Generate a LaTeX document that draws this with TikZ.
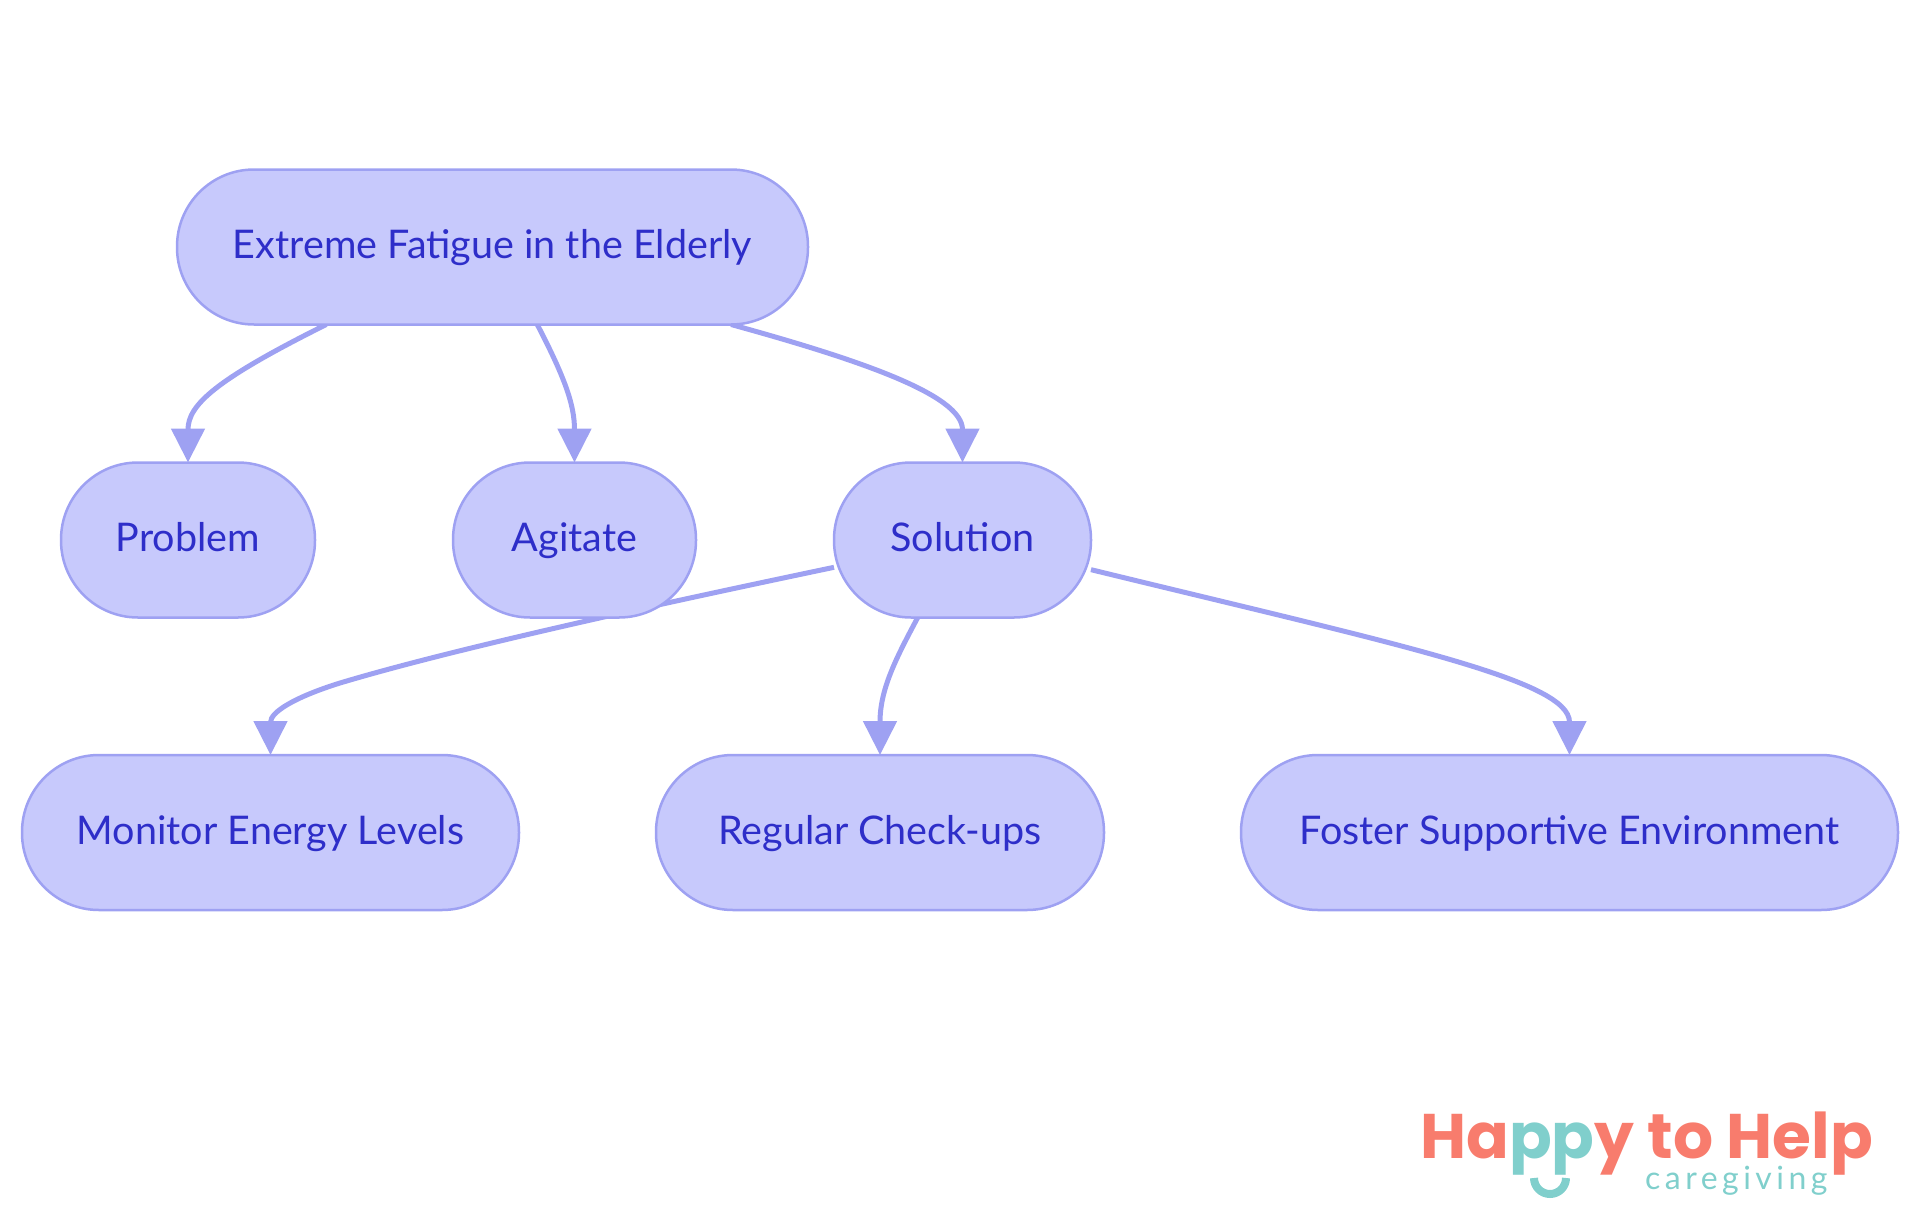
\documentclass[tikz,border=0pt]{standalone}
\usepackage{fontspec}
\usetikzlibrary{arrows.meta,backgrounds}
\setmainfont{Lato}
\newfontfamily\logofont{Poppins}
\definecolor{boxfill}{HTML}{C7C9FC}
\definecolor{boxline}{HTML}{9EA1F2}
\definecolor{boxtext}{HTML}{2E2EC9}
\definecolor{logored}{HTML}{F87C6D}
\definecolor{logoteal}{HTML}{80CFCC}
\tikzset{
  pill/.style={draw=boxline,fill=boxfill,text=boxtext,line width=2.5pt,rounded corners=77pt,
    inner sep=0pt,outer sep=0pt,minimum height=155pt,text height=31pt,text depth=8pt,
    font=\fontsize{39.5}{44}\selectfont},
  link/.style={draw=boxline,line width=5pt,-{Triangle[width=33pt,length=34pt]}}
}
\begin{document}
\begin{tikzpicture}[x=1pt,y=-1pt]
   \useasboundingbox (0,0) rectangle (1920,1215);
   \node[pill,minimum width=631pt] (fatigue) at (492.5,247) {Extreme Fatigue in the Elderly};
   \node[pill,minimum width=254pt] (problem) at (188,540) {Problem};
   \node[pill,minimum width=243pt] (agitate) at (574.5,540) {Agitate};
   \node[pill,minimum width=257pt] (solution) at (962.5,540) {Solution};
   \node[pill,minimum width=497pt] (monitor) at (270.5,832.5) {Monitor Energy Levels};
   \node[pill,minimum width=448pt] (checkups) at (880,832.5) {Regular Check-ups};
   \node[pill,minimum width=657pt] (foster) at (1569.5,832.5) {Foster Supportive Environment};
   \coordinate (bend) at (340,683);
   \begin{scope}[on background layer]
   \draw[link] (fatigue.-155.2) .. controls (215,380) and (188,405) .. (problem.north);
   \draw[link] (fatigue.-60.9) .. controls (565,378) and (574.5,405) .. (agitate.north);
   \draw[link] (fatigue.-18.2) .. controls (860,360) and (962.5,395) .. (solution.north);
   \draw[link] (solution.192.3) .. controls (640,608) and (450,650) .. (bend)
     .. controls (295,697) and (270.5,712) .. (monitor.north);
   \draw[link] (solution.-120.3) .. controls (895,660) and (880,690) .. (checkups.north);
   \draw[link] (solution.-13.9) .. controls (1400,645) and (1569.5,680) .. (foster.north);
   \end{scope}
   \node[anchor=base west,inner sep=0pt,font=\logofont\bfseries\fontsize{63}{66}\selectfont,text=logored] (brand) at (1420,1158)
     {Ha\textcolor{logoteal}{pp}y to Help};
   \node[anchor=base west,inner sep=0pt,font=\fontsize{32}{36}\selectfont\addfontfeature{LetterSpace=14},text=logoteal] (care) at (1645,1189) {caregiving};
   \draw[logoteal,line width=8pt] (1534,1178) arc (180:0:16 and 16);
\end{tikzpicture}
\end{document}
